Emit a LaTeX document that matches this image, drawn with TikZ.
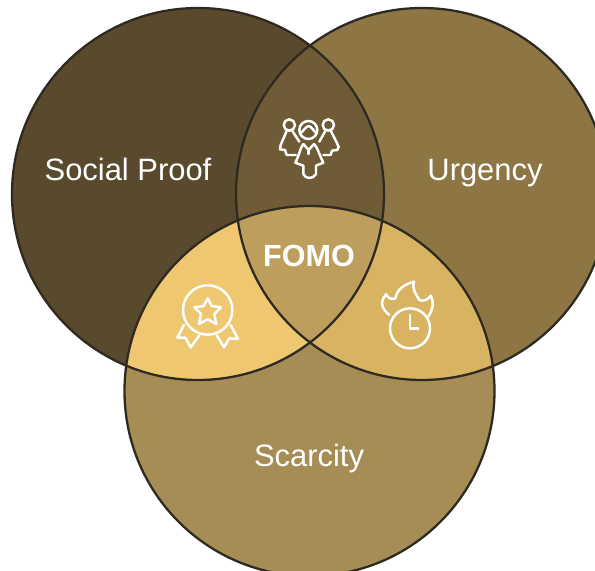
\documentclass[tikz,border=0pt]{standalone}
\usepackage{fontspec}
\setmainfont{Liberation Sans}
\usetikzlibrary{arrows}

\definecolor{proofbrown}{HTML}{5A4A2D}
\definecolor{urgencybrown}{HTML}{8D7644}
\definecolor{scarcitybrown}{HTML}{A68D55}
\definecolor{proofurgency}{HTML}{6F5C36}
\definecolor{proofscarcity}{HTML}{EFC770}
\definecolor{urgencyscarcity}{HTML}{D8B462}
\definecolor{fomocentre}{HTML}{BD9E5D}
\definecolor{ringline}{HTML}{2E2A22}

\def\circleproof{(198,194) circle [radius=186]}
\def\circleurgency{(422,194) circle [radius=186]}
\def\circlescarcity{(309.5,391) circle [radius=185]}

\tikzset{
	label text/.style={text=white,font=\fontsize{17.6pt}{21pt}\selectfont,inner sep=0pt,anchor=base},
	ring/.style={draw=ringline,line width=1.3pt},
	icon line/.style={draw=white,line width=1.4pt,line join=round,line cap=round}
}

\begin{document}
\begin{tikzpicture}[x=0.02cm,y=-0.02cm]
	\useasboundingbox (0,0) rectangle (595,571);
	\fill[white] (0,0) rectangle (595,571);
	\begin{scope}
		\clip (0,0) rectangle (595,571);
		% plain discs
		\fill[proofbrown] \circleproof;
		\fill[urgencybrown] \circleurgency;
		\fill[scarcitybrown] \circlescarcity;
		% overlaps
		\begin{scope}
			\clip \circleproof;
			\fill[proofurgency] \circleurgency;
			\fill[proofscarcity] \circlescarcity;
		\end{scope}
		\begin{scope}
			\clip \circleurgency;
			\fill[urgencyscarcity] \circlescarcity;
			\clip \circleproof;
			\fill[fomocentre] \circlescarcity;
		\end{scope}
		\draw[ring] \circleproof;
		\draw[ring] \circleurgency;
		\draw[ring] \circlescarcity;
	\end{scope}

	\node[label text] (proof) at (128,180) {Social Proof};
	\node[label text] (urgency) at (485,180) {Urgency};
	\node[label text] (scarcity) at (309,466) {Scarcity};
	\node[label text,font=\bfseries\fontsize{17.4pt}{21pt}\selectfont] (fomo) at (309,266) {FOMO};

	% people
	\begin{scope}[shift={(260,100)},scale=1/3,icon line]
		\draw (145,90) circle [radius=27];
		\draw (120,100) .. controls (130,95) and (138,78) .. (146,78) .. controls (154,78) and (162,95) .. (170,100);
		\draw (88,75) circle [radius=17];
		\draw (205,75) circle [radius=17];
		\draw (130,132) -- (146,150) -- (162,132) .. controls (172,140) and (178,165) .. (190,188) -- (168,197) -- (168,222) .. controls (160,238) and (136,238) .. (130,222) -- (130,197) -- (106,188) .. controls (118,165) and (122,140) .. (130,132);
		\draw (146,150) -- (146,162);
		\draw (80,93) -- (62,135) -- (60,148) -- (75,150) -- (80,165) -- (108,165);
		\draw (97,93) -- (118,125);
		\draw (213,93) -- (236,140) -- (232,150) -- (216,152) -- (212,165) -- (190,165);
		\draw (196,93) -- (178,125);
	\end{scope}

	% award
	\begin{scope}[shift={(160,270)},scale=1/3,icon line]
		\draw (143,120) circle [radius=74];
		\draw (143,85) -- (155,108) -- (183,112) -- (163,132) -- (169,162) -- (143,148) -- (117,162) -- (123,132) -- (103,112) -- (131,108) -- cycle;
		\draw (72,165) -- (52,203) -- (76,203) -- (92,232) -- (118,196);
		\draw (212,165) -- (234,207) -- (208,205) -- (192,232) -- (170,196);
	\end{scope}

	% flame and clock
	\begin{scope}[shift={(360,265)},scale=1/3,icon line]
		\draw (150,190) circle [radius=60];
		\draw (150,150) -- (150,190) -- (175,190);
		\draw (88,150) .. controls (70,135) and (55,115) .. (78,88) .. controls (85,100) and (95,105) .. (106,100) .. controls (112,70) and (135,58) .. (162,50) .. controls (155,75) and (170,90) .. (178,105) .. controls (190,110) and (205,105) .. (212,92) .. controls (225,115) and (215,140) .. (205,155);
	\end{scope}
\end{tikzpicture}
\end{document}
